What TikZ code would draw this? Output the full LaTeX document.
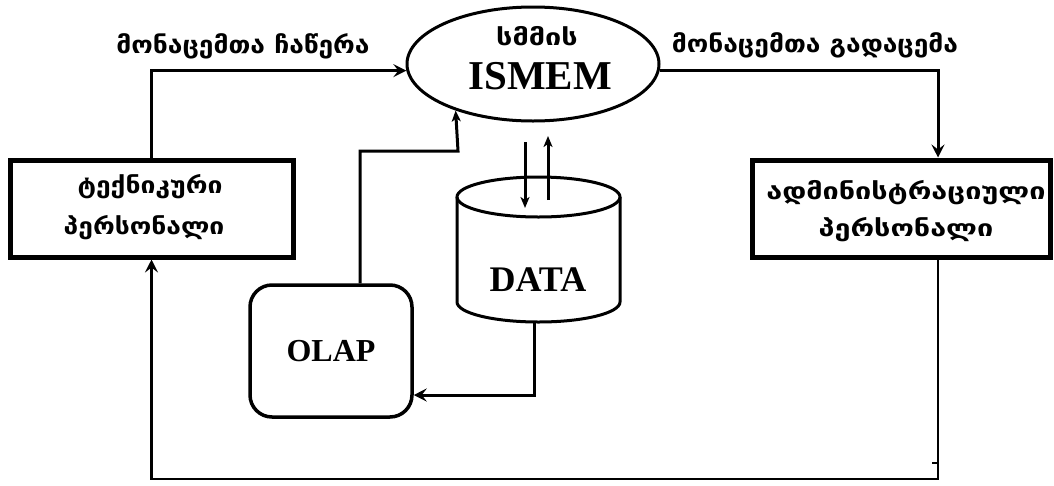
\documentclass[tikz,border=0pt]{standalone}
\usepackage{fontspec}
\usetikzlibrary{arrows.meta,shapes.geometric,calc}
\newfontfamily\geo{DejaVu Sans}[FakeStretch=1.1]
\newfontfamily\geob{DejaVu Sans}[FakeStretch=1.15]
\newfontfamily\geoc{DejaVu Sans}[FakeStretch=1.25]
\newfontfamily\lat{Liberation Serif}
\begin{document}
\begin{tikzpicture}[x=1pt,y=-1pt,
  geotext/.style={font=\geo\bfseries\fontsize{24}{26}\selectfont, inner sep=0},
  geotextb/.style={font=\geob\bfseries\fontsize{23}{26}\selectfont, inner sep=0},
  geotextc/.style={font=\geoc\bfseries\fontsize{23}{26}\selectfont, inner sep=0},
  lattext/.style={font=\lat\bfseries\fontsize{#1}{#1}\selectfont, inner sep=0},
  pbox/.style={draw, line width=5pt, minimum width=283pt, minimum height=97pt, inner sep=0},
  conn/.style={line width=3pt},
  thinconn/.style={line width=2.4pt},
  arr/.style={-{Stealth[length=13pt,width=13pt,inset=5pt]}},
  sarr/.style={-{Stealth[length=11pt,width=9pt,inset=3pt]}}
]
\useasboundingbox (0,0) rectangle (1054,485);
% ISMEM ellipse
\node[ellipse, draw, line width=3pt, minimum width=252pt, minimum height=114pt, inner sep=0] (ism) at (533,64) {};
\node[geotextc] (ismg) at (537,36) {სმმის};
\node[lattext=41] (isml) at (540,76) {ISMEM};
% labels
\node[geotext] (lw) at (243,46) {მონაცემთა ჩაწერა};
\node[geotext] (lr) at (815,45) {მონაცემთა გადაცემა};
% boxes
\node[pbox] (tech) at (151.5,208.5) {};
\node[geotextb] (tech1) at (150,187) {ტექნიკური};
\node[geotextb] (tech2) at (144,228) {პერსონალი};
\node[pbox, minimum width=298pt] (adm) at (901,208.5) {};
\node[geotextc] (adm1) at (906,193) {ადმინისტრაციული};
\node[geotextc] (adm2) at (906,230) {პერსონალი};
% OLAP
\node[draw, line width=3.5pt, rounded corners=22pt, minimum width=162pt, minimum height=132pt, inner sep=0,
      lattext=32] (olap) at (331,351) {OLAP};
% DATA cylinder
\draw[line width=3pt] (538.5,197) ellipse [x radius=81.5, y radius=20];
\draw[line width=3pt] (457,197) -- (457,302) arc [start angle=180, end angle=0, x radius=81.5, y radius=20] -- (620,197);
\node[lattext=36] (data) at (538,280) {DATA};
\coordinate (dbot) at (534,322);
\coordinate (dturn) at (534,395);
% connectors
\draw[conn, arr] (tech.north) |- (ism.183);
\draw[conn, arr] (ism.-3) -| ($(adm.north)+(37,0)$);
\coordinate (rbot) at (938,479);
\draw[thinconn, arr] ($(adm.south)+(37,0)$) -- (rbot) -| (tech.south);
\coordinate (ob) at (458,151);
\draw[conn, sarr] ($(olap.north)+(29,0)$) |- (ob) -- (ism.211);
\coordinate (d1) at (525,142);
\coordinate (d2) at (525,208);
\coordinate (u1) at (548,200);
\coordinate (u2) at (548,136);
\draw[conn, sarr] (d1) -- (d2);
\draw[conn, sarr] (u1) -- (u2);
\draw[conn, arr] (dbot) -- (dturn) -- (olap.east |- dturn);
% small stray tick on right line
\draw[line width=1.5pt] (932,463) -- (938,463);
\end{tikzpicture}
\end{document}
